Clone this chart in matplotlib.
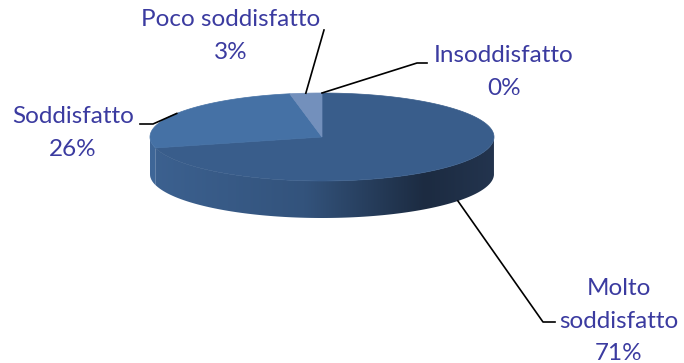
import numpy as np
import matplotlib.pyplot as plt
from matplotlib.patches import Polygon
from matplotlib.colors import LinearSegmentedColormap

# survey answers, clockwise from 12 o'clock
labels = ["Molto\nsoddisfatto", "Soddisfatto", "Poco soddisfatto", "Insoddisfatto"]
values = [71, 26, 3, 0]
top_colors = ["#395d8b", "#4571a5", "#7390bc", "#8fa8cc"]

# where each label sits and where its leader line bends
label_pos = [(619, 321), (73, 133), (231, 36), (504, 72)]
leader_bend = [[(543, 322), (555, 322)],
               [(153, 124), (140, 124)],
               [(324, 30)],
               [(417, 63), (427, 63)]]

# pie geometry (pixels)
cx, cy, rx, ry, depth = 322, 137, 172, 44, 37

fig = plt.figure(figsize=(6.84, 3.63), dpi=100)
ax = fig.add_axes([0, 0, 1, 1])
ax.set_xlim(0, 684)
ax.set_ylim(363, 0)
ax.axis("off")


def ell(t, dy=0.0):
    return cx + rx * np.cos(t), cy - ry * np.sin(t) + dy


total = sum(values)
bounds = 90 - np.cumsum([0] + values) * 360.0 / total  # degrees, clockwise

# side wall gradient, dark towards the right
side_cmap = LinearSegmentedColormap.from_list(
    "side", [(0.0, "#3c6190"), (0.45, "#33537c"), (0.8, "#1c2b41"), (1.0, "#23344e")])
grad = np.linspace(0, 1, 256).reshape(1, -1)

for i in range(len(values)):
    a0, a1 = bounds[i], bounds[i + 1]
    if a0 == a1:
        continue
    t = np.radians(np.linspace(a1, a0, 200))
    front = np.sin(t) < 0
    if front.sum() < 2:
        continue
    tf = t[front]
    xs, ys = ell(tf)
    xb, yb = ell(tf[::-1], depth)
    poly = Polygon(np.column_stack([np.r_[xs, xb], np.r_[ys, yb]]),
                   closed=True, facecolor="none", edgecolor="none")
    ax.add_patch(poly)
    im = ax.imshow(grad, cmap=side_cmap, extent=[cx - rx, cx + rx, cy + ry + depth, cy],
                   aspect="auto", zorder=1)
    im.set_clip_path(poly)
    if i == 1:
        shade = Polygon(poly.get_xy(), closed=True, facecolor="#4672a6",
                        edgecolor="none", alpha=0.35, zorder=1.5)
        ax.add_patch(shade)

# top face
for i in range(len(values)):
    a0, a1 = bounds[i], bounds[i + 1]
    if a0 == a1:
        continue
    t = np.radians(np.linspace(a0, a1, 200))
    xs, ys = ell(t)
    pts = np.column_stack([np.r_[cx, xs], np.r_[cy, ys]])
    ax.add_patch(Polygon(pts, closed=True, facecolor=top_colors[i],
                         edgecolor=top_colors[i], linewidth=0.5, zorder=2))

# labels and leader lines
for i in range(len(values)):
    mid = np.radians((bounds[i] + bounds[i + 1]) / 2)
    x0, y0 = ell(mid, depth if np.sin(mid) < -0.3 else 0)
    px = [x0] + [p[0] for p in leader_bend[i]]
    py = [y0] + [p[1] for p in leader_bend[i]]
    ax.plot(px, py, color="black", linewidth=1.2, zorder=3)
    ax.text(label_pos[i][0], label_pos[i][1], f"{labels[i]}\n{values[i]}%",
            ha="center", va="center", fontsize=17.5, family="Lato",
            color="#3b3ba0", linespacing=1.65, zorder=4)

fig.savefig("out.png", dpi=100)
